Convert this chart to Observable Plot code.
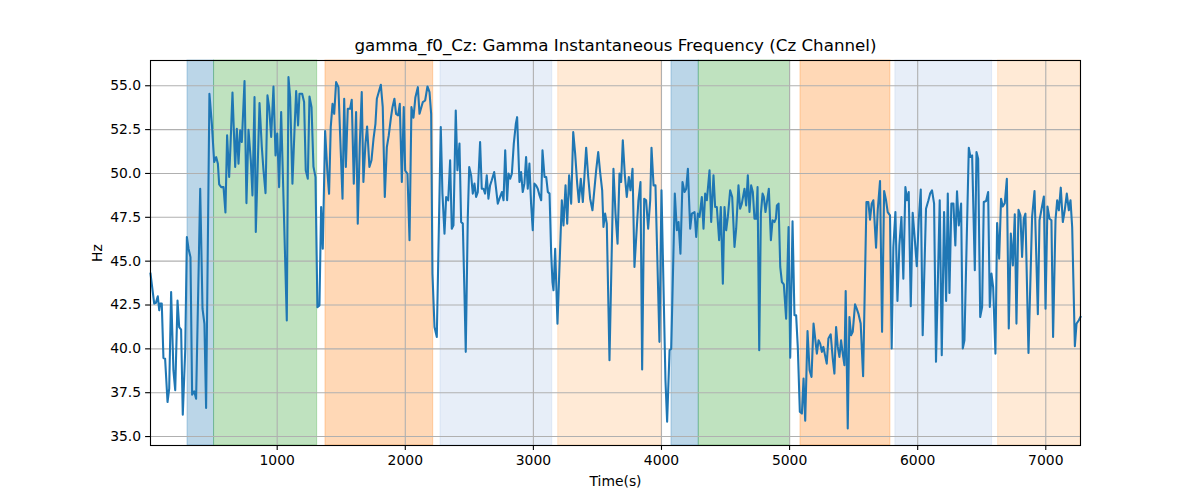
<!DOCTYPE html>
<html>
<head>
<meta charset="utf-8">
<script src="https://cdn.jsdelivr.net/npm/d3@7"></script>
<script src="https://cdn.jsdelivr.net/npm/@observablehq/plot@0.6"></script>
<style>
  html, body { margin: 0; padding: 0; background: white; }
  #chart { width: 1200px; height: 500px; }
</style>
</head>
<body>
<div id="chart"></div>
<script>
const titleText = "gamma_f0_Cz: Gamma Instantaneous Frequency (Cz Channel)";
const xLabel = "Time(s)";
const yLabel = "Hz";
const xTicks = [1000, 2000, 3000, 4000, 5000, 6000, 7000];
const yTicks = [35, 37.5, 40, 42.5, 45, 47.5, 50, 52.5, 55];

const spanStart = [300, 507, 1377, 2275, 3194, 4078, 4291, 5085, 5826, 6628];
const spanEnd   = [507, 1312, 2218, 3147, 3997, 4291, 5004, 5787, 6581, 7271];
const spanColor = ["#1f77b4", "#2ca02c", "#ff7f0e", "#aec7e8", "#ffbb78",
                   "#1f77b4", "#2ca02c", "#ff7f0e", "#aec7e8", "#ffbb78"];

const times = [
  11, 40, 53, 68, 79, 86, 99, 112, 125, 144, 157, 172, 190, 204, 222, 235, 250, 263, 282, 295,
  308, 323, 336, 352, 367, 399, 417, 432, 445, 471, 490, 508, 524, 537, 547, 563, 581, 596, 609, 625,
  635, 651, 672, 685, 698, 711, 724, 745, 760, 776, 794, 807, 823, 833, 862, 880, 893, 909, 924, 937,
  953, 971, 987, 1000, 1015, 1031, 1075, 1088, 1101, 1119, 1135, 1148, 1163, 1174, 1195, 1210, 1223, 1239, 1252, 1268,
  1283, 1299, 1314, 1330, 1343, 1356, 1374, 1392, 1405, 1418, 1432, 1445, 1460, 1478, 1491, 1510, 1523, 1536, 1551, 1569,
  1582, 1598, 1616, 1629, 1645, 1660, 1673, 1689, 1702, 1720, 1736, 1752, 1767, 1778, 1793, 1809, 1824, 1840, 1856, 1871,
  1887, 1900, 1915, 1928, 1944, 1957, 1973, 1988, 1999, 2017, 2033, 2048, 2064, 2079, 2098, 2111, 2137, 2155, 2173, 2189,
  2202, 2212, 2228, 2246, 2277, 2290, 2306, 2319, 2335, 2350, 2363, 2376, 2394, 2407, 2423, 2436, 2449, 2462, 2472, 2488,
  2499, 2514, 2527, 2540, 2553, 2566, 2584, 2597, 2610, 2623, 2636, 2649, 2662, 2675, 2694, 2722, 2740, 2754, 2767, 2780,
  2795, 2806, 2819, 2832, 2847, 2863, 2873, 2891, 2904, 2917, 2930, 2943, 2956, 2969, 2982, 2995, 3008, 3021, 3034, 3048,
  3061, 3071, 3087, 3100, 3113, 3126, 3139, 3149, 3157, 3170, 3188, 3222, 3235, 3251, 3264, 3279, 3295, 3311, 3326, 3342,
  3355, 3370, 3386, 3412, 3428, 3443, 3461, 3490, 3506, 3521, 3537, 3547, 3560, 3573, 3594, 3625, 3641, 3657, 3672, 3685,
  3698, 3714, 3729, 3745, 3758, 3774, 3789, 3820, 3836, 3849, 3865, 3880, 3896, 3912, 3922, 3938, 3953, 3984, 4000, 4031,
  4044, 4063, 4076, 4104, 4120, 4133, 4148, 4164, 4180, 4193, 4206, 4224, 4237, 4258, 4271, 4284, 4297, 4315, 4328, 4341,
  4354, 4375, 4388, 4406, 4419, 4432, 4450, 4463, 4479, 4492, 4505, 4518, 4536, 4552, 4570, 4583, 4601, 4614, 4627, 4648,
  4661, 4674, 4687, 4700, 4713, 4726, 4739, 4750, 4763, 4776, 4789, 4799, 4812, 4825, 4838, 4854, 4867, 4882, 4893, 4901,
  4914, 4927, 4940, 4955, 4973, 4992, 5005, 5023, 5038, 5051, 5064, 5080, 5096, 5109, 5122, 5140, 5156, 5171, 5187, 5213,
  5226, 5239, 5252, 5264, 5277, 5290, 5303, 5321, 5337, 5350, 5363, 5376, 5389, 5402, 5415, 5428, 5438, 5454, 5467, 5480,
  5493, 5511, 5524, 5537, 5555, 5574, 5600, 5615, 5628, 5641, 5654, 5675, 5688, 5706, 5722, 5738, 5753, 5766, 5784, 5797,
  5810, 5826, 5842, 5857, 5873, 5888, 5904, 5917, 5930, 5946, 5961, 5977, 5993, 6008, 6024, 6039, 6065, 6084, 6097, 6112,
  6128, 6143, 6172, 6188, 6206, 6222, 6235, 6248, 6263, 6279, 6294, 6307, 6321, 6339, 6352, 6365, 6399, 6412, 6425, 6446,
  6459, 6472, 6488, 6503, 6516, 6534, 6550, 6563, 6576, 6589, 6607, 6620, 6636, 6651, 6664, 6680, 6696, 6711, 6727, 6743,
  6758, 6771, 6787, 6802, 6815, 6828, 6841, 6865, 6893, 6912, 6938, 6951, 6985, 6998, 7013, 7029, 7044, 7057, 7076, 7089,
  7102, 7117, 7133, 7148, 7164, 7180, 7193, 7206, 7227, 7240, 7258, 7271
];
const hz = [
  44.29, 42.58, 42.62, 43.0, 42.2, 42.58, 42.58, 39.48, 39.44, 36.97, 37.73, 43.24, 38.77, 37.64, 42.76, 41.24, 41.09, 36.25, 39.91, 46.37,
  45.71, 45.23, 37.39, 37.58, 37.16, 49.13, 42.29, 41.43, 36.63, 54.54, 52.83, 50.65, 50.93, 50.55, 49.38, 49.22, 49.22, 47.78, 52.17, 49.8,
  51.5, 54.62, 50.37, 52.55, 50.56, 52.46, 51.79, 55.27, 48.31, 52.49, 50.75, 48.75, 54.35, 46.66, 54.01, 51.5, 50.18, 48.88, 54.45, 53.78,
  52.08, 54.96, 51.03, 52.27, 49.22, 53.5, 41.62, 55.49, 54.35, 49.41, 52.45, 54.7, 52.74, 54.54, 54.54, 54.07, 50.17, 49.7, 54.39, 53.78,
  50.4, 49.79, 42.38, 42.48, 48.08, 45.71, 52.42, 50.08, 48.84, 52.64, 53.97, 53.4, 55.21, 54.92, 52.27, 48.56, 54.26, 50.37, 53.69, 53.69,
  54.2, 49.41, 53.5, 47.14, 51.7, 54.64, 49.51, 51.7, 52.68, 50.37, 50.75, 51.98, 52.83, 54.26, 54.64, 55.06, 53.78, 48.66, 51.5, 52.17,
  53.12, 53.78, 54.26, 53.4, 53.31, 53.97, 49.51, 53.78, 50.17, 49.98, 46.19, 53.78, 53.18, 54.35, 54.92, 53.4, 54.07, 54.16, 54.96, 54.64,
  53.4, 44.29, 41.25, 40.68, 52.65, 48.85, 46.57, 48.66, 48.47, 50.75, 46.85, 47.04, 53.59, 50.18, 51.7, 47.23, 47.14, 43.15, 39.83, 47.52,
  50.37, 49.89, 48.85, 49.42, 48.66, 48.94, 51.79, 49.13, 49.13, 48.85, 49.89, 48.56, 49.32, 49.61, 50.08, 48.28, 48.66, 48.94, 48.47, 51.32,
  48.47, 49.99, 49.7, 49.99, 51.7, 52.83, 53.21, 49.51, 50.08, 48.94, 49.42, 50.94, 49.13, 50.56, 48.28, 46.76, 49.42, 49.32, 49.13, 48.75,
  48.47, 51.32, 49.8, 49.8, 48.94, 48.85, 45.43, 43.81, 43.34, 45.71, 41.44, 48.47, 47.04, 49.32, 47.14, 49.89, 48.28, 52.36, 51.13, 49.42,
  48.37, 49.7, 48.37, 51.47, 49.8, 48.56, 47.9, 50.18, 51.22, 50.08, 49.04, 46.95, 47.71, 47.14, 39.35, 50.27, 47.71, 46.0, 49.99, 49.51,
  51.89, 49.89, 48.66, 49.8, 49.04, 50.27, 44.67, 48.47, 49.51, 38.82, 48.56, 48.47, 46.85, 48.47, 51.47, 49.32, 49.32, 40.4, 49.04, 38.21,
  35.84, 39.92, 40.01, 48.85, 46.76, 47.23, 45.43, 49.51, 48.94, 49.13, 50.27, 46.85, 47.71, 47.8, 46.38, 47.71, 47.52, 48.66, 46.85, 48.85,
  48.47, 50.18, 47.23, 49.89, 48.09, 48.09, 46.19, 48.09, 43.72, 48.09, 46.76, 47.52, 49.04, 48.66, 45.81, 46.85, 49.32, 47.99, 48.28, 49.13,
  48.18, 49.89, 47.8, 49.32, 48.94, 47.42, 47.42, 49.22, 39.92, 47.71, 48.85, 48.66, 47.8, 48.47, 49.13, 46.19, 47.33, 47.23, 47.42, 48.18,
  48.28, 44.67, 43.81, 43.68, 41.72, 46.95, 39.5, 47.27, 41.92, 41.92, 40.11, 36.41, 36.31, 38.31, 35.9, 41.02, 38.78, 38.4, 41.44, 39.73,
  40.49, 40.3, 39.83, 40.11, 39.63, 39.16, 40.59, 40.83, 39.44, 38.59, 41.25, 40.11, 39.54, 40.49, 39.73, 39.07, 43.3, 35.46, 41.82, 40.78,
  40.97, 42.54, 42.29, 42.01, 41.44, 38.44, 48.37, 48.37, 47.36, 48.28, 48.47, 45.77, 47.9, 49.57, 40.97, 49.0, 48.47, 47.8, 47.61, 40.02,
  45.81, 47.8, 42.73, 45.9, 47.52, 44.0, 49.22, 48.47, 48.94, 42.43, 47.76, 46.28, 44.71, 47.33, 49.08, 40.78, 47.99, 48.47, 48.85, 49.04,
  48.28, 39.26, 48.47, 39.64, 47.8, 42.73, 48.85, 43.19, 48.28, 48.28, 45.9, 48.98, 47.04, 48.28, 40.02, 40.49, 51.47, 50.94, 51.03, 44.48,
  51.22, 50.84, 41.82, 42.39, 48.37, 48.43, 48.94, 42.39, 44.29, 43.53, 39.73, 47.18, 45.14, 48.56, 48.12, 48.31, 49.7, 41.16, 46.57, 44.76,
  47.67, 41.44, 47.93, 47.61, 45.24, 47.42, 47.71, 39.77, 47.52, 49.0, 41.97, 47.33, 48.69, 42.29, 48.12, 47.42, 47.33, 40.68, 47.36, 48.47,
  47.9, 49.19, 47.23, 47.9, 48.85, 47.9, 48.47, 46.95, 40.15, 41.44, 41.63, 41.82
];

const series = times.map((t, i) => ({t, v: hz[i]}));
const spans = spanStart.map((s, i) => ({start: s, end: spanEnd[i], color: spanColor[i]}));

const gridStyle = {stroke: "#b0b0b0", strokeOpacity: 1, strokeWidth: 1.1};

const chart = Plot.plot({
  width: 1200,
  height: 500,
  marginLeft: 150,
  marginRight: 120,
  marginTop: 60,
  marginBottom: 55,
  style: {fontFamily: "DejaVu Sans", fontSize: "13.9px", color: "black", background: "white"},
  x: {domain: [11, 7271]},
  y: {domain: [34.49, 56.44]},
  marks: [
    ...spans.map(s => Plot.rect([s], {x1: "start", x2: "end", fill: s.color, fillOpacity: 0.3, stroke: s.color, strokeOpacity: 0.3, strokeWidth: 1})),
    Plot.gridX(xTicks, gridStyle),
    Plot.gridY(yTicks, gridStyle),
    Plot.line(series, {x: "t", y: "v", stroke: "#1f77b4", strokeWidth: 2.08, strokeLinejoin: "round", strokeLinecap: "square"}),
    Plot.frame({stroke: "black", strokeWidth: 1.1}),
    Plot.axisX(xTicks, {tickSize: 4.9, tickPadding: 4.5, tickFormat: d => String(d), label: null, stroke: "black", strokeWidth: 1.1}),
    Plot.axisY(yTicks, {tickSize: 4.9, tickPadding: 4.5, tickFormat: d => d.toFixed(1), label: null, stroke: "black", strokeWidth: 1.1}),
    Plot.text([titleText], {text: d => d, frameAnchor: "top", lineAnchor: "middle", textAnchor: "middle", dy: -14.5, fontSize: 16.7, fill: "black"}),
    Plot.text([xLabel], {text: d => d, frameAnchor: "bottom", lineAnchor: "middle", textAnchor: "middle", dy: 36, fontSize: 13.9, fill: "black"}),
    Plot.text([yLabel], {text: d => d, frameAnchor: "left", lineAnchor: "middle", textAnchor: "middle", dx: -53, rotate: -90, fontSize: 13.9, fill: "black"})
  ]
});
document.getElementById("chart").appendChild(chart);
</script>
</body>
</html>
